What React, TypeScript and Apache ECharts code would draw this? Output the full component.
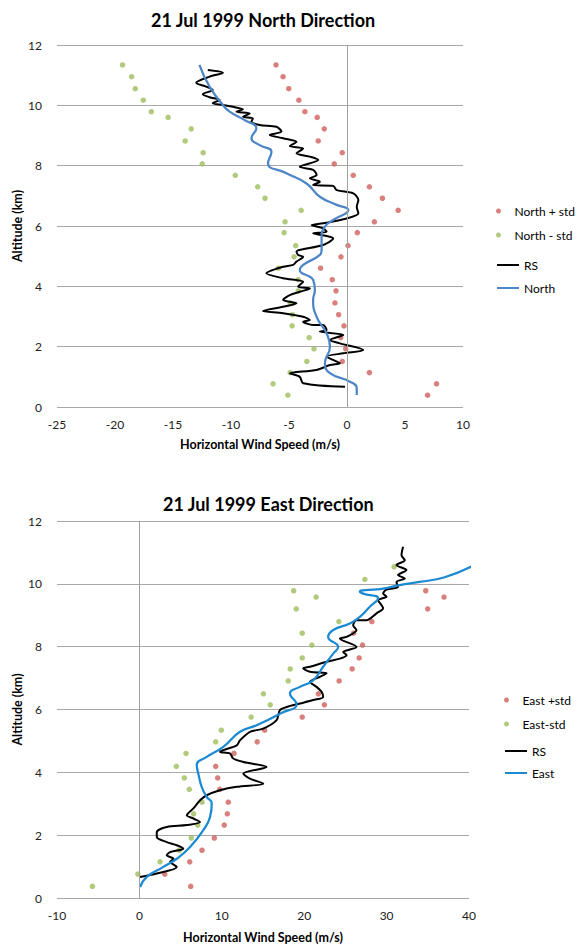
import React, { useEffect, useRef } from "react";
import * as echarts from "echarts";

// ---------- North chart data ----------
const northStdAlt = [11.34, 10.95, 10.55, 10.17, 9.79, 9.6, 9.22, 8.82, 8.43, 8.06, 7.68, 7.3, 6.92, 6.52, 6.14, 5.78, 5.35, 4.98, 4.6, 4.22, 3.85, 3.45, 3.06, 2.69, 2.3, 1.93, 1.51, 1.14, 0.77, 0.39];
const northPlusStd = [-6.12, -5.51, -5.02, -4.15, -3.63, -2.57, -1.96, -2.48, -0.41, -1.1, 0.54, 1.93, 3.05, 4.41, 2.36, 0.89, 0.09, -0.52, -2.28, -1.27, -0.95, -1.04, -0.72, -0.26, -0.54, -0.11, -0.41, 1.93, 7.72, 6.95];
const northMinusStd = [-19.35, -18.57, -18.25, -17.56, -16.87, -15.42, -13.43, -13.95, -12.4, -12.48, -9.63, -7.7, -7.07, -3.95, -5.34, -5.42, -4.43, -4.56, -5.91, -4.21, -4.21, -4.9, -4.7, -4.73, -3.26, -2.85, -3.46, -4.9, -6.38, -5.1];

const northRsAlt = [11.17, 11.08, 10.95, 10.75, 10.62, 10.51, 10.37, 10.27, 10.18, 10.07, 10.01, 9.95, 9.87, 9.79, 9.73, 9.62, 9.57, 9.46, 9.35, 9.29, 9.13, 9.02, 8.91, 8.79, 8.65, 8.57, 8.41, 8.3, 8.19, 7.96, 7.86, 7.69, 7.58, 7.47, 7.36, 7.33, 7.19, 7.08, 6.86, 6.64, 6.42, 6.25, 6.09, 6.03, 5.92, 5.81, 5.76, 5.67, 5.59, 5.37, 5.15, 5.04, 4.98, 4.82, 4.71, 4.65, 4.43, 4.27, 4.15, 3.99, 3.93, 3.82, 3.71, 3.55, 3.44, 3.32, 3.18, 3.11, 2.99, 2.88, 2.83, 2.72, 2.72, 2.55, 2.5, 2.39, 2.22, 2.11, 1.89, 1.78, 1.67, 1.56, 1.45, 1.39, 1.23, 1.12, 1.0, 0.79, 0.67];
const northRsSpeed = [-12.0, -10.7, -11.85, -13.0, -12.14, -11.57, -12.43, -11.85, -10.99, -11.57, -10.7, -9.84, -8.97, -9.54, -8.39, -8.97, -8.11, -8.24, -7.53, -6.08, -5.65, -6.66, -5.51, -4.35, -4.93, -3.78, -4.35, -3.2, -2.48, -4.07, -2.92, -2.62, -3.2, -2.34, -2.92, -1.19, -0.89, 0.54, 0.98, 0.84, 0.98, -0.03, -2.05, -3.05, -2.05, -1.76, -2.92, -1.76, -1.19, -2.05, -4.35, -4.21, -3.78, -4.35, -4.65, -5.51, -6.95, -5.51, -3.78, -4.21, -3.2, -4.07, -4.93, -5.51, -4.35, -5.51, -7.24, -5.51, -3.78, -3.2, -3.78, -2.92, -2.05, -1.76, -2.34, -0.32, -1.47, -0.61, 1.41, -0.32, -1.76, -1.19, -0.61, -1.47, -2.62, -4.93, -4.07, -3.78, -0.17];

const northLineAlt = [11.34, 10.62, 10.01, 9.79, 9.51, 9.24, 8.91, 8.68, 8.46, 8.08, 7.75, 7.41, 6.97, 6.7, 6.53, 6.2, 5.98, 5.64, 5.2, 5.04, 4.71, 4.54, 4.21, 3.88, 3.55, 2.99, 2.44, 2.0, 1.45, 1.12, 0.84, 0.62, 0.4];
const northLineSpeed = [-12.72, -11.85, -10.7, -10.12, -8.82, -7.81, -8.24, -7.53, -6.51, -6.81, -5.22, -3.49, -2.34, -0.89, 0.11, -1.19, -1.9, -2.19, -2.19, -2.34, -3.78, -4.07, -2.92, -2.77, -2.92, -2.62, -1.76, -1.47, -1.9, -1.47, 0.26, 0.84, 0.84];

// ---------- East chart data ----------
const eastPlusAlt = [9.78, 9.58, 9.2, 8.8, 8.43, 8.05, 7.64, 7.29, 6.91, 6.5, 6.15, 5.76, 5.34, 4.97, 4.6, 4.19, 3.82, 3.46, 3.05, 2.68, 2.32, 1.91, 1.52, 1.15, 0.76, 0.37];
const eastPlusStd = [34.75, 36.97, 34.99, 28.21, 25.99, 27.08, 26.67, 25.82, 24.24, 21.72, 22.45, 19.76, 15.2, 14.3, 11.48, 9.26, 9.5, 9.75, 10.79, 10.67, 10.3, 9.09, 7.6, 6.11, 3.08, 6.23];
const eastMinusAlt = [10.54, 10.14, 9.78, 9.58, 9.2, 8.8, 8.43, 8.05, 7.64, 7.29, 6.91, 6.5, 6.15, 5.76, 5.34, 4.97, 4.6, 4.19, 3.82, 3.46, 3.05, 2.68, 2.32, 1.91, 1.52, 1.15, 0.76, 0.37];
const eastMinusStd = [30.91, 27.36, 18.72, 21.45, 19.03, 24.21, 19.76, 20.93, 19.76, 18.3, 18.06, 15.05, 15.88, 13.56, 9.94, 9.26, 5.66, 4.48, 5.45, 6.06, 7.6, 6.59, 7.08, 6.3, 4.85, 2.51, -0.19, -5.7];

const eastRsAlt = [11.18, 10.91, 10.75, 10.6, 10.44, 10.28, 10.17, 10.06, 9.9, 9.82, 9.69, 9.59, 9.48, 9.32, 9.22, 9.06, 8.84, 8.84, 8.68, 8.53, 8.31, 8.26, 7.99, 7.83, 7.73, 7.62, 7.52, 7.36, 7.31, 7.2, 7.15, 7.04, 6.88, 6.72, 6.56, 6.4, 6.3, 6.19, 6.08, 5.98, 5.66, 5.39, 5.29, 5.02, 4.86, 4.65, 4.6, 4.44, 4.33, 4.17, 3.96, 3.8, 3.64, 3.54, 3.43, 3.27, 3.11, 2.85, 2.63, 2.53, 2.42, 2.32, 2.26, 2.1, 1.94, 1.78, 1.68, 1.57, 1.46, 1.36, 1.25, 1.15, 0.99, 0.78, 0.67];
const eastRsSpeed = [32.0, 31.81, 32.21, 31.2, 32.41, 31.39, 32.21, 31.2, 31.39, 29.99, 29.58, 29.99, 28.97, 29.38, 29.58, 28.78, 27.56, 26.35, 25.94, 26.35, 25.14, 24.33, 26.35, 24.73, 25.14, 24.33, 22.72, 20.69, 19.88, 20.69, 22.72, 21.9, 20.69, 21.5, 22.11, 22.3, 21.09, 19.48, 17.87, 17.05, 16.65, 15.03, 13.42, 12.21, 11.81, 9.78, 10.99, 11.39, 12.61, 15.44, 12.61, 13.42, 15.03, 11.81, 9.78, 8.17, 7.36, 6.55, 5.75, 6.55, 7.36, 5.75, 3.32, 2.11, 2.11, 3.32, 4.53, 5.33, 3.72, 3.32, 4.12, 3.72, 4.53, 2.11, 0.08];

const eastLineAlt = [0.35, 0.67, 0.99, 1.25, 1.62, 2.16, 2.58, 3.01, 3.22, 3.54, 3.96, 4.23, 4.49, 4.81, 5.29, 5.5, 5.88, 6.17, 6.51, 6.72, 6.93, 7.36, 7.78, 7.99, 8.31, 8.53, 8.74, 8.95, 9.27, 9.54, 9.69, 9.75, 9.85, 9.96, 10.06, 10.21, 10.55];
const eastLineSpeed = [0.08, 0.9, 2.91, 4.53, 6.15, 7.76, 8.57, 8.78, 8.17, 7.56, 7.15, 6.96, 8.17, 10.18, 12.21, 14.23, 17.18, 19.08, 18.27, 19.48, 21.09, 22.3, 23.52, 24.12, 22.91, 23.52, 25.54, 26.75, 27.96, 28.97, 27.15, 26.75, 29.58, 31.6, 34.02, 37.05, 40.3];

const yTicks = { min: 0, max: 12, interval: 2 };

const zip = (xs: number[], ys: number[]) => xs.map((x, i) => [x, ys[i]]);

const FONT = "Lato";
const RED = "#D0605C";
const GREEN = "#9EBD5B";

export default function App() {
  const ref = useRef<HTMLDivElement>(null);
  useEffect(() => {
    if (!ref.current) return;
    const chart = echarts.init(ref.current, undefined, { renderer: "svg" });
    const axisLabel = { fontSize: 12, color: "#222", fontFamily: FONT };
    const nameStyle = { fontSize: 12.5, fontWeight: "bold" as const, color: "#000", fontFamily: FONT };
    const legendText = { fontSize: 12, color: "#000", fontFamily: FONT };
    const zeroLine = {
      silent: true,
      symbol: ["none", "none"],
      label: { show: false },
      lineStyle: { color: "#A0A0A0", type: "solid", width: 1 },
      data: [{ xAxis: 0 }],
    };
    const yAxisBase = (gridIndex: number) => ({
      type: "value",
      gridIndex,
      ...yTicks,
      name: "Altitude (km)",
      nameLocation: "middle",
      nameGap: 33,
      nameMoveOverlap: false,
      nameTextStyle: nameStyle,
      axisLine: { show: false },
      axisTick: { show: false },
      axisLabel: { ...axisLabel, margin: 15 },
      splitLine: { lineStyle: { color: "#A8A8A8", width: 1 } },
    });
    const titleStyle = { fontSize: 18, fontWeight: "bold", color: "#000", fontFamily: FONT };
    const option: any = {
      animation: false,
      backgroundColor: "#fff",
      title: [
        { text: "21 Jul 1999 North Direction", left: 146, top: 6, textStyle: titleStyle },
        { text: "21 Jul 1999 East Direction", left: 158, top: 490, textStyle: titleStyle },
      ],
      legend: [
        { data: ["North + std", "North - std"], orient: "vertical", left: 491, top: 200, itemWidth: 22, itemHeight: 5, itemGap: 12, textStyle: legendText },
        { data: ["RS", "North"], orient: "vertical", left: 491, top: 254, itemWidth: 22, itemHeight: 2, itemGap: 11, textStyle: legendText },
        { data: ["East +std", "East-std"], orient: "vertical", left: 499, top: 689, itemWidth: 22, itemHeight: 5, itemGap: 12, textStyle: legendText },
        { data: ["RS ", "East"], orient: "vertical", left: 499, top: 740, itemWidth: 22, itemHeight: 2, itemGap: 10, textStyle: legendText },
      ],
      grid: [
        { left: 57, right: 116, top: 45, height: 362, containLabel: false, outerBoundsMode: "none" },
        { left: 57, right: 110, top: 521, height: 377, containLabel: false, outerBoundsMode: "none" },
      ],
      xAxis: [
        {
          type: "value", gridIndex: 0, min: -25, max: 10, interval: 5,
          name: "Horizontal Wind Speed (m/s)", nameLocation: "middle", nameGap: 31, nameTextStyle: nameStyle,
          axisLine: { show: false }, axisTick: { show: false }, splitLine: { show: false },
          axisLabel: { ...axisLabel, margin: 11 },
        },
        {
          type: "value", gridIndex: 1, min: -10, max: 40, interval: 10,
          name: "Horizontal Wind Speed (m/s)", nameLocation: "middle", nameGap: 33, nameTextStyle: nameStyle,
          axisLine: { show: false }, axisTick: { show: false }, splitLine: { show: false },
          axisLabel: { ...axisLabel, margin: 11 },
        },
      ],
      yAxis: [yAxisBase(0), yAxisBase(1)],
      series: [
        { name: "North + std", type: "scatter", xAxisIndex: 0, yAxisIndex: 0, symbolSize: 5.5, itemStyle: { color: RED }, data: zip(northPlusStd, northStdAlt) },
        { name: "North - std", type: "scatter", xAxisIndex: 0, yAxisIndex: 0, symbolSize: 5.5, itemStyle: { color: GREEN }, data: zip(northMinusStd, northStdAlt) },
        { name: "RS", type: "line", xAxisIndex: 0, yAxisIndex: 0, showSymbol: false, symbol: "none", smooth: 0.3, lineStyle: { color: "#000", width: 2 }, itemStyle: { color: "#000" }, data: zip(northRsSpeed, northRsAlt), markLine: zeroLine },
        { name: "North", type: "line", xAxisIndex: 0, yAxisIndex: 0, showSymbol: false, symbol: "none", smooth: 0.5, lineStyle: { color: "#4C86C6", width: 2.25 }, itemStyle: { color: "#4C86C6" }, data: zip(northLineSpeed, northLineAlt) },
        { name: "East +std", type: "scatter", xAxisIndex: 1, yAxisIndex: 1, symbolSize: 5.5, itemStyle: { color: RED }, data: zip(eastPlusStd, eastPlusAlt) },
        { name: "East-std", type: "scatter", xAxisIndex: 1, yAxisIndex: 1, symbolSize: 5.5, itemStyle: { color: GREEN }, data: zip(eastMinusStd, eastMinusAlt) },
        { name: "RS ", type: "line", xAxisIndex: 1, yAxisIndex: 1, showSymbol: false, symbol: "none", smooth: 0.3, lineStyle: { color: "#000", width: 2 }, itemStyle: { color: "#000" }, data: zip(eastRsSpeed, eastRsAlt), markLine: zeroLine },
        { name: "East", type: "line", xAxisIndex: 1, yAxisIndex: 1, showSymbol: false, symbol: "none", smooth: 0.5, clip: true, lineStyle: { color: "#1B8AD3", width: 2.25 }, itemStyle: { color: "#1B8AD3" }, data: zip(eastLineSpeed, eastLineAlt) },
      ],
    };
    chart.setOption(option);
    return () => chart.dispose();
  }, []);
  return <div ref={ref} style={{ position: "absolute", left: 0, top: 0, width: 579, height: 945, background: "#fff" }} />;
}
